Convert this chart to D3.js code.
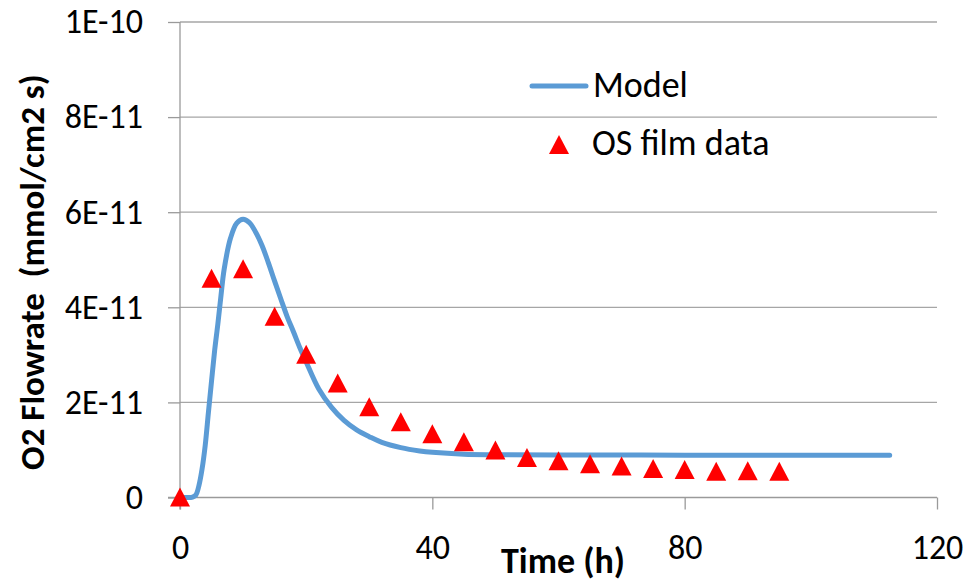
<!DOCTYPE html>
<html>
<head>
<meta charset="utf-8">
<script src="https://cdn.jsdelivr.net/npm/d3@7"></script>
<style>
  body { margin: 0; background: #fff; }
  text { font-family: Carlito, Calibri, Lato, sans-serif; fill: #000; white-space: pre; }
</style>
</head>
<body>
<svg width="978" height="583"></svg>
<script>
// measured data (OS film) and model curve, flowrate in mmol/cm2 s
const dataTime = [0, 5, 10, 15, 20, 25, 30, 35, 40, 45, 50, 55, 60, 65, 70, 75, 80, 85, 90, 95]
const dataFlow = [0, 4.6e-11, 4.8e-11, 3.8e-11, 3.0e-11, 2.4e-11, 1.9e-11, 1.58e-11, 1.33e-11, 1.16e-11,
    0.99e-11, 0.83e-11, 0.76e-11, 0.70e-11, 0.65e-11, 0.60e-11, 0.58e-11, 0.54e-11, 0.55e-11, 0.54e-11]

const modelTime = [0, 1, 2, 2.5, 3, 3.5, 4, 4.5, 5, 5.5, 6, 6.5, 7, 8, 9, 10, 11, 12, 13, 14, 15, 16, 17,
    18, 19, 20, 22, 24, 26, 28, 30, 32, 35, 38, 40, 45, 50, 60, 80, 100, 112.5]
const modelFlow = [0, 0, 0.01e-11, 0.05e-11, 0.25e-11, 0.6e-11, 1.1e-11, 1.78e-11, 2.45e-11, 3.1e-11,
    3.65e-11, 4.25e-11, 4.8e-11, 5.45e-11, 5.77e-11, 5.85e-11, 5.78e-11, 5.58e-11, 5.3e-11, 4.94e-11,
    4.55e-11, 4.17e-11, 3.8e-11, 3.48e-11, 3.15e-11, 2.85e-11, 2.28e-11, 1.9e-11, 1.62e-11, 1.42e-11,
    1.28e-11, 1.16e-11, 1.05e-11, 0.98e-11, 0.95e-11, 0.91e-11, 0.9e-11, 0.895e-11, 0.89e-11, 0.89e-11, 0.89e-11]

const xTicks = [0, 40, 80, 120]
const yTicks = [0, 2e-11, 4e-11, 6e-11, 8e-11, 1e-10]
const yTickLabels = ['0', '2E-11', '4E-11', '6E-11', '8E-11', '1E-10']
const seriesNames = ['Model', 'OS film data']

const svg = d3.select('svg'),
    grid_color = '#a6a6a6',
    axis_color = '#9a9a9a',
    model_color = '#5b9bd5',
    data_color = '#ff0000'

const x = d3.scaleLinear().domain([0, 120]).range([180, 937]),
    y = d3.scaleLinear().domain([0, 1e-10]).range([497.5, 22])

// horizontal gridlines
svg.append('g').selectAll('line')
    .data(yTicks.slice(1))
    .enter().append('line')
    .attr('x1', x(0)).attr('x2', x(120))
    .attr('y1', (d) => y(d)).attr('y2', (d) => y(d))
    .style('stroke', grid_color)
    .style('stroke-width', 1.3)

// y axis
const yAxis = svg.append('g')
    .attr('transform', 'translate(' + x(0) + ',0)')
    .call(d3.axisLeft(y).tickValues(yTicks).tickSize(12).tickPadding(25)
        .tickFormat((d, i) => yTickLabels[i]))
yAxis.selectAll('text').style('font-size', '34px')

// x axis
const xAxis = svg.append('g')
    .attr('transform', 'translate(0,' + y(0) + ')')
    .call(d3.axisBottom(x).tickValues(xTicks).tickSize(12).tickSizeOuter(0))
xAxis.selectAll('text').attr('y', 61).attr('dy', null).style('font-size', '34px')

svg.selectAll('.domain, .tick line')
    .style('stroke', axis_color)
    .style('stroke-width', 1.3)
svg.selectAll('.domain').attr('d', null)
yAxis.append('line').attr('x1', 0).attr('x2', 0).attr('y1', y(1e-10)).attr('y2', y(0) + 12)
    .style('stroke', axis_color).style('stroke-width', 1.3)
xAxis.append('line').attr('x1', x(0) - 12).attr('x2', x(120)).attr('y1', 0).attr('y2', 0)
    .style('stroke', axis_color).style('stroke-width', 1.3)

// axis titles
svg.append('text')
    .attr('x', 563).attr('y', 573)
    .style('text-anchor', 'middle')
    .style('font-weight', 'bold')
    .style('font-size', '36px')
    .text('Time (h)')

svg.append('text')
    .attr('transform', 'translate(44,470)rotate(-90)')
    .style('text-anchor', 'start')
    .style('font-weight', 'bold')
    .style('font-size', '35px')
    .text('O2 Flowrate  (mmol/cm2 s)')

// model line
const line = d3.line()
    .x((d) => x(d[0]))
    .y((d) => y(d[1]))
    .curve(d3.curveCatmullRom.alpha(0.5))

svg.append('path')
    .datum(modelTime.map((t, i) => [t, modelFlow[i]]))
    .attr('d', line)
    .style('fill', 'none')
    .style('stroke', model_color)
    .style('stroke-width', 5)
    .style('stroke-linecap', 'round')
    .style('stroke-linejoin', 'round')

// triangle markers
const tri = (cx, cy) => 'M' + cx + ',' + (cy - 10) + 'L' + (cx + 10) + ',' + (cy + 9) +
    'L' + (cx - 10) + ',' + (cy + 9) + 'Z'

svg.append('g').selectAll('path')
    .data(dataTime.map((t, i) => [t, dataFlow[i]]))
    .enter().append('path')
    .attr('d', (d) => tri(x(d[0]), y(d[1])))
    .style('fill', data_color)

// legend
svg.append('line')
    .attr('x1', 532).attr('x2', 586).attr('y1', 86).attr('y2', 86)
    .style('stroke', model_color)
    .style('stroke-width', 5)
    .style('stroke-linecap', 'round')
svg.append('text')
    .attr('x', 593).attr('y', 97)
    .style('font-size', '36px')
    .text(seriesNames[0])
svg.append('path')
    .attr('d', tri(559, 145))
    .style('fill', data_color)
svg.append('text')
    .attr('x', 592).attr('y', 155)
    .style('font-size', '36px')
    .text(seriesNames[1])
</script>
</body>
</html>
